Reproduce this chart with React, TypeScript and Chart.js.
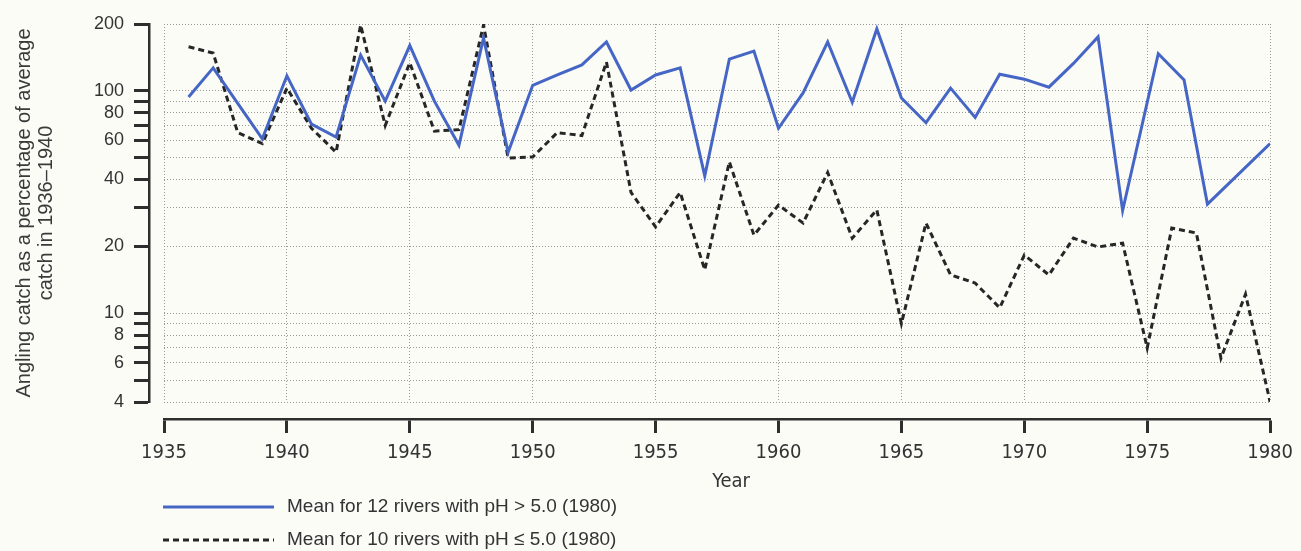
import React, { useEffect, useRef } from "react";
import { Chart, registerables } from "chart.js";

Chart.register(...registerables);

// ---- Data ----
const highPhYears = [
  1936, 1937, 1938, 1939, 1940, 1941, 1942, 1943, 1944, 1945,
  1946, 1947, 1948, 1949, 1950, 1951, 1952, 1953, 1954, 1955,
  1956, 1957, 1958, 1959, 1960, 1961, 1962, 1963, 1964, 1965,
  1966, 1967, 1968, 1969, 1970, 1971, 1972, 1973, 1974, 1975.45,
  1976.5, 1977.45, 1980,
];
const highPhValues = [
  94, 127, 88, 61, 117, 71, 62, 145, 90, 160,
  90, 57, 173, 53, 106, 118, 131, 166, 101, 118,
  127, 41.5, 139, 151, 68, 98, 166, 89, 190, 93,
  72, 103, 76, 119, 113, 104, 133, 175, 29, 147,
  112, 31, 58,
];
const lowPhYears = [
  1936, 1937, 1938, 1939, 1940, 1941, 1942, 1943, 1944, 1945,
  1946, 1947, 1948, 1949, 1950, 1951, 1952, 1953, 1954, 1955,
  1956, 1957, 1958, 1959, 1960, 1961, 1962, 1963, 1964, 1965,
  1966, 1967, 1968, 1969, 1970, 1971, 1972, 1973, 1974, 1975,
  1976, 1977, 1978, 1979, 1980,
];
const lowPhValues = [
  158, 148, 65, 58, 103, 68, 53, 198, 70, 134,
  66, 67, 198, 50, 50.5, 65, 63, 135, 35, 24.5,
  35, 15.7, 48, 22.5, 30.7, 25.5, 43, 21.8, 29.2, 9,
  25.5, 14.9, 13.7, 10.6, 18.3, 14.9, 21.8, 19.9, 20.7, 7,
  24.2, 23, 6.3, 12.2, 4,
];
const yGridValues = [4, 5, 6, 7, 8, 9, 10, 20, 30, 40, 50, 60, 70, 80, 90, 100, 200];
const yLabelValues = [4, 6, 8, 10, 20, 40, 60, 80, 100, 200];
const xMin = 1935;
const xMax = 1980;
const xStep = 5;
const yMin = 4;
const yMax = 200;
const seriesLabels = [
  "Mean for 12 rivers with pH > 5.0 (1980)",
  "Mean for 10 rivers with pH \u2264 5.0 (1980)",
];
const yTitle = ["Angling catch as a percentage of average", "catch in 1936\u20131940"];
const xTitle = "Year";

// ---- Styles ----
const BG = "#fcfcf7";
const TEXT = "#333333";
const AXIS = "#2e2e2e";
const GRID = "#9a9a9a";
const BLUE = "#4666c6";
const DARK = "#262626";
const NARROW = '"DejaVu Sans Condensed", "Liberation Sans", sans-serif';
const REGULAR = '"Liberation Sans", Arial, sans-serif';

const overlayPlugin = {
  id: "overlay",
  beforeDraw(chart: any) {
    const ctx = chart.ctx;
    ctx.save();
    ctx.fillStyle = BG;
    ctx.fillRect(0, 0, chart.width, chart.height);
    ctx.restore();
  },
  afterDraw(chart: any) {
    const ctx = chart.ctx;
    const { left, right } = chart.chartArea;
    const xAxis = chart.scales.xAxis;
    ctx.save();
    // x axis title
    ctx.font = `20px ${NARROW}`;
    ctx.fillStyle = TEXT;
    ctx.textAlign = "center";
    ctx.textBaseline = "middle";
    ctx.fillText(xTitle, (left + right) / 2 + 14, xAxis.bottom - 17);
    // legend
    chart.data.datasets.forEach((ds: any, i: number) => {
      const y = xAxis.bottom + 8 + i * 33;
      ctx.save();
      ctx.strokeStyle = ds.borderColor;
      ctx.lineWidth = ds.borderWidth;
      ctx.setLineDash(ds.borderDash || []);
      ctx.beginPath();
      ctx.moveTo(left - 1, y);
      ctx.lineTo(left + 110, y);
      ctx.stroke();
      ctx.restore();
      ctx.font = `19px ${REGULAR}`;
      ctx.fillStyle = TEXT;
      ctx.textAlign = "left";
      ctx.textBaseline = "middle";
      ctx.fillText(ds.label, left + 123, y);
    });
    ctx.restore();
  },
};

export default function App() {
  const canvasRef = useRef<HTMLCanvasElement | null>(null);

  useEffect(() => {
    const canvas = canvasRef.current;
    if (!canvas) return;
    const setYTicks = (scale: any) => {
      scale.ticks = yGridValues.map((v) => ({ value: v }));
    };
    const chart = new Chart(canvas, {
      type: "line",
      data: {
        datasets: [
          {
            label: seriesLabels[0],
            data: highPhYears.map((x, i) => ({ x, y: highPhValues[i] })),
            borderColor: BLUE,
            borderWidth: 3,
            pointRadius: 0,
            tension: 0,
            fill: false,
          },
          {
            label: seriesLabels[1],
            data: lowPhYears.map((x, i) => ({ x, y: lowPhValues[i] })),
            borderColor: DARK,
            borderWidth: 3,
            borderDash: [6, 4],
            pointRadius: 0,
            tension: 0,
            fill: false,
          },
        ],
      },
      options: {
        animation: false,
        responsive: false,
        devicePixelRatio: 1,
        layout: { padding: { top: 24, right: 25, bottom: 52, left: 0 } },
        plugins: {
          legend: { display: false },
          tooltip: { enabled: false },
        },
        scales: {
          x: {
            type: "linear",
            position: "bottom",
            weight: 0,
            min: xMin,
            max: xMax,
            ticks: { display: false, stepSize: xStep },
            grid: { color: GRID, lineWidth: 1, drawTicks: false },
            border: { display: false, dash: [1, 2] },
            afterFit: (scale: any) => {
              scale.height = 17;
            },
          },
          y: {
            type: "logarithmic",
            position: "left",
            weight: 0,
            min: yMin,
            max: yMax,
            afterBuildTicks: setYTicks,
            ticks: { display: false },
            grid: { color: GRID, lineWidth: 1, drawTicks: false },
            border: { display: false, dash: [1, 2] },
            afterFit: (scale: any) => {
              scale.width = 15;
            },
          },
          xAxis: {
            type: "linear",
            position: "bottom",
            weight: 1,
            min: xMin,
            max: xMax,
            ticks: {
              stepSize: xStep,
              color: TEXT,
              padding: 8,
              maxRotation: 0,
              font: { family: NARROW, size: 20 },
              callback: (v: any) => String(v),
            },
            grid: {
              drawOnChartArea: false,
              drawTicks: true,
              tickLength: 14,
              tickWidth: 3,
              tickColor: AXIS,
              color: AXIS,
            },
            border: { display: true, color: AXIS, width: 2.5 },
            afterFit: (scale: any) => {
              scale.height = 80;
            },
          },
          yAxis: {
            type: "logarithmic",
            position: "left",
            weight: 1,
            min: yMin,
            max: yMax,
            afterBuildTicks: setYTicks,
            ticks: {
              color: TEXT,
              padding: 10,
              autoSkip: false,
              font: { family: REGULAR, size: 18 },
              callback: (v: any) => (yLabelValues.includes(Number(v)) ? String(v) : ""),
            },
            grid: {
              drawOnChartArea: false,
              drawTicks: true,
              tickLength: 15,
              tickWidth: 3,
              tickColor: AXIS,
              color: AXIS,
            },
            border: { display: true, color: AXIS, width: 2.5 },
            title: {
              display: true,
              text: yTitle,
              color: "#3a3a3a",
              font: { family: REGULAR, size: 20, lineHeight: 1.1 },
              padding: { top: 13, bottom: 0 },
            },
            afterFit: (scale: any) => {
              scale.width = 149;
            },
          },
        },
      },
      plugins: [overlayPlugin],
    });
    return () => chart.destroy();
  }, []);

  return (
    <div style={{ position: "fixed", left: 0, top: 0, width: 1301, height: 551, background: BG }}>
      <canvas ref={canvasRef} width={1301} height={551} />
    </div>
  );
}
